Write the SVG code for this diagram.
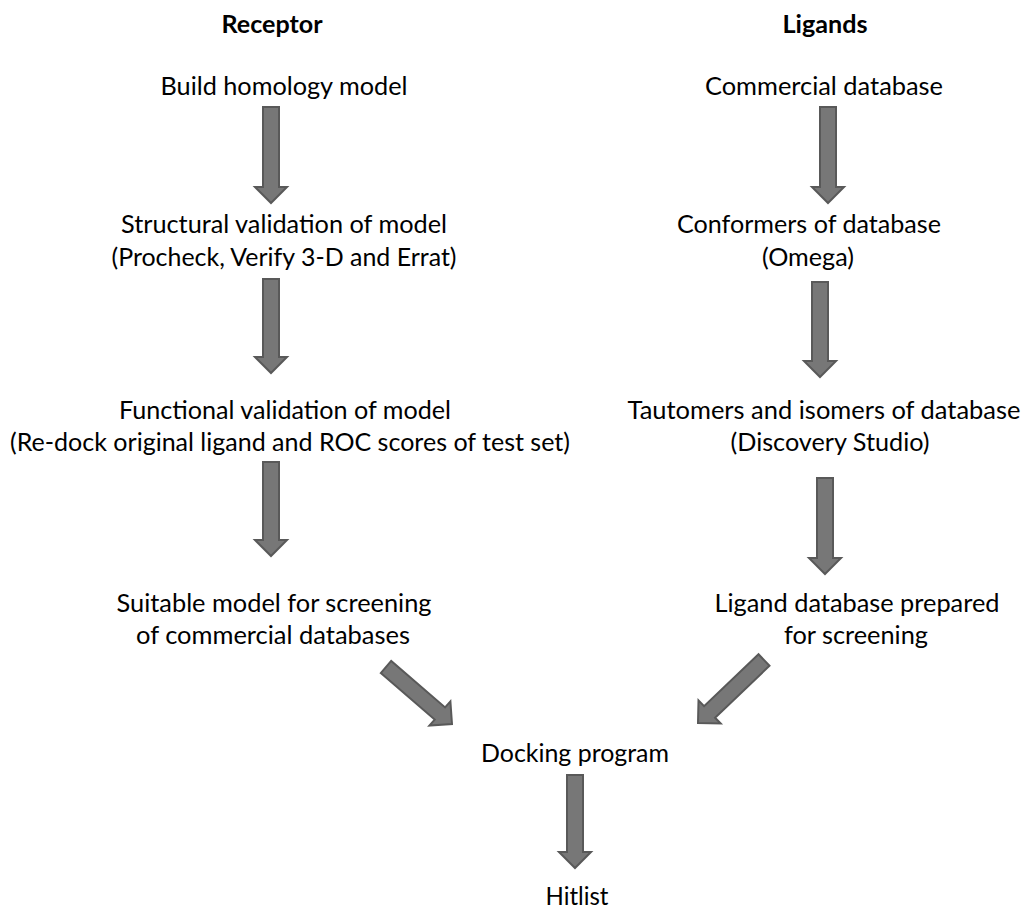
<svg xmlns="http://www.w3.org/2000/svg" width="1024" height="909" viewBox="0 0 1024 909">
<style>
text{font-family:Lato,"Liberation Sans","Open Sans",sans-serif;font-size:25.5px;fill:#000;text-anchor:middle}
.h{font-weight:bold}
.arr{fill:#777;stroke:#595959;stroke-width:2;stroke-linejoin:miter}
</style>
<rect width="1024" height="909" fill="#fff"/>
<g id="hdr-receptor"><text class="h" x="272" y="33" textLength="101" lengthAdjust="spacingAndGlyphs">Receptor</text></g>
<g id="hdr-ligands"><text class="h" x="825" y="33" textLength="85" lengthAdjust="spacingAndGlyphs">Ligands</text></g>
<g id="n-build"><text x="284" y="95" textLength="247" lengthAdjust="spacingAndGlyphs">Build homology model</text></g>
<g id="n-commercial"><text x="824" y="95" textLength="238" lengthAdjust="spacingAndGlyphs">Commercial database</text></g>
<g id="n-structural"><text x="284" y="233" textLength="326" lengthAdjust="spacingAndGlyphs">Structural validation of model</text><text x="284" y="266" textLength="345" lengthAdjust="spacingAndGlyphs">(Procheck, Verify 3-D and Errat)</text></g>
<g id="n-conformers"><text x="809" y="233" textLength="264" lengthAdjust="spacingAndGlyphs">Conformers of database</text><text x="808" y="266" textLength="92" lengthAdjust="spacingAndGlyphs">(Omega)</text></g>
<g id="n-functional"><text x="285" y="419" textLength="332" lengthAdjust="spacingAndGlyphs">Functional validation of model</text><text x="290" y="451" textLength="560" lengthAdjust="spacingAndGlyphs">(Re-dock original ligand and ROC scores of test set)</text></g>
<g id="n-tautomers"><text x="824" y="419" textLength="393" lengthAdjust="spacingAndGlyphs">Tautomers and isomers of database</text><text x="830" y="451" textLength="199" lengthAdjust="spacingAndGlyphs">(Discovery Studio)</text></g>
<g id="n-suitable"><text x="274" y="612" textLength="315" lengthAdjust="spacingAndGlyphs">Suitable model for screening</text><text x="273" y="644" textLength="274" lengthAdjust="spacingAndGlyphs">of commercial databases</text></g>
<g id="n-ligand-db"><text x="857" y="612" textLength="285" lengthAdjust="spacingAndGlyphs">Ligand database prepared</text><text x="856" y="644" textLength="144" lengthAdjust="spacingAndGlyphs">for screening</text></g>
<g id="n-docking"><text x="575" y="762" textLength="188" lengthAdjust="spacingAndGlyphs">Docking program</text></g>
<g id="n-hitlist"><text x="577" y="905" textLength="63" lengthAdjust="spacingAndGlyphs">Hitlist</text></g>
<g id="connectors">
<polygon class="arr" points="263,107 279,107 279,187 287,187 271,203 255,187 263,187"/>
<polygon class="arr" points="263,279 279,279 279,357 287,357 271,373 255,357 263,357"/>
<polygon class="arr" points="263,462 279,462 279,540 287,540 271,556 255,540 263,540"/>
<polygon class="arr" points="820,107 836,107 836,187 844,187 828,203 812,187 820,187"/>
<polygon class="arr" points="812,282 828,282 828,361 836,361 820,377 804,361 812,361"/>
<polygon class="arr" points="817,478 833,478 833,558 841,558 825,574 809,558 817,558"/>
<polygon class="arr" points="380.8,673.1 434.7,719.6 429.4,725.6 452,724 450.4,701.4 445.1,707.4 391.2,660.9"/>
<polygon class="arr" points="758.5,654.2 704.1,706.1 698.5,700.3 698,723 720.7,723.5 715.1,717.7 769.5,665.8"/>
<polygon class="arr" points="567,775 583,775 583,852 591,852 575,868 559,852 567,852"/>
</g>
</svg>
